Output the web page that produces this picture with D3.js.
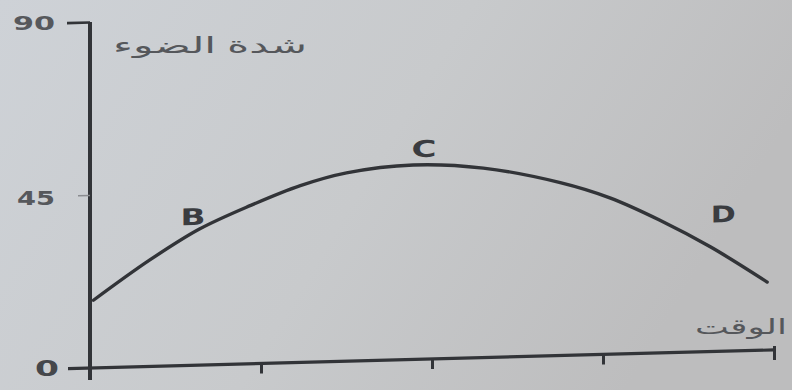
<!DOCTYPE html>
<html>
<head>
<meta charset="utf-8">
<script src="https://cdn.jsdelivr.net/npm/d3@7"></script>
<style>
  html, body { margin: 0; padding: 0; background: #c9cbce; }
  svg { display: block; }
</style>
</head>
<body>
<script>
// ---- data ----
const timeValues = [0.02, 0.35, 0.64, 0.94, 1.23, 1.50, 1.89, 2.30, 2.75, 3.04, 3.33, 3.63, 3.96];
const intensityValues = [17.6, 27.7, 35.4, 41.2, 46.0, 49.0, 50.6, 49.3, 45.0, 40.7, 34.6, 27.2, 17.7];
const yTickValues = [0, 45, 90];
const xTickValues = [1, 2, 3, 4];
const pointLabels = ["B", "C", "D"];
const pointLabelTimes = [0.60, 1.95, 3.70];
const pointLabelValues = [36.5, 52.6, 33.6];
const yAxisTitle = "شدة الضوء";
const xAxisTitle = "الوقت";

// ---- layout ----
const W = 792, H = 390;
const x0 = 90, y0 = 368, yTop = 22, xEnd = 774;
const shear = -0.0264;

const svg = d3.select("body").append("svg").attr("width", W).attr("height", H);

const defs = svg.append("defs");
const grad = defs.append("linearGradient").attr("id", "bg").attr("x1", "0").attr("x2", "1").attr("y1", "0").attr("y2", "0.3");
grad.append("stop").attr("offset", "0").attr("stop-color", "#ced2d7");
grad.append("stop").attr("offset", "0.55").attr("stop-color", "#c8cacc");
grad.append("stop").attr("offset", "1").attr("stop-color", "#bdbdbe");
svg.append("rect").attr("width", W).attr("height", H).attr("fill", "url(#bg)");

const x = d3.scaleLinear().domain([0, 4]).range([x0, xEnd]);
const y = d3.scaleLinear().domain([0, 90]).range([y0, yTop]);

// the photographed page is slightly sheared: horizontal lines rise to the right
const g = svg.append("g")
  .attr("transform", `translate(${x0},${y0}) matrix(1,${shear},0,1,0,0) translate(${-x0},${-y0})`);

const ink = "#323438";
const textInk = "#56585c";

// x axis
const xAxis = d3.axisBottom(x).tickValues(xTickValues).tickSize(10).tickFormat("");
const gx = g.append("g").attr("transform", `translate(0,${y0})`).call(xAxis);
gx.select(".domain").attr("d", `M${x0 - 22},0H${xEnd}`).attr("stroke", ink).attr("stroke-width", 3.2);
gx.selectAll(".tick line").attr("stroke", ink).attr("stroke-width", 3).attr("y1", d => d === 4 ? -4 : 0);

// y axis
const yAxis = d3.axisLeft(y).tickValues(yTickValues).tickSize(23).tickFormat("");
const gy = g.append("g").attr("transform", `translate(${x0},0)`).call(yAxis);
gy.select(".domain").attr("d", `M0,${y0 + 12}V${yTop}`).attr("stroke", ink).attr("stroke-width", 4);
gy.selectAll(".tick line").attr("stroke", ink).attr("stroke-width", 2.6);
gy.selectAll(".tick").filter(d => d === 0).select("line").attr("stroke-width", 0);
gy.selectAll(".tick").filter(d => d === 45).select("line")
  .attr("x2", -12).attr("stroke", "#8a8c90").attr("stroke-width", 1.4);

// y tick labels (outside the shear)
const labX = {0: 47, 45: 36, 90: 34};
const labW = {0: 24, 45: 38, 90: 42};
svg.append("g").selectAll("text").data(yTickValues).join("text")
  .attr("x", d => labX[d] - labW[d] / 2)
  .attr("y", d => d === 45 ? y(d) + 10 : y(d) + 8)
  .attr("textLength", d => labW[d])
  .attr("lengthAdjust", "spacingAndGlyphs")
  .attr("font-family", "DejaVu Sans, sans-serif")
  .attr("font-weight", "bold")
  .attr("font-size", d => d === 0 ? 22 : 20)
  .attr("fill", d => d === 0 ? "#45474b" : textInk)
  .text(d => d);

// curve
const pts = timeValues.map((t, i) => [t, intensityValues[i]]);
const line = d3.line().x(d => x(d[0])).y(d => y(d[1])).curve(d3.curveCatmullRom.alpha(0.5));
g.append("path").attr("d", line(pts)).attr("fill", "none")
  .attr("stroke", ink).attr("stroke-width", 3.4).attr("stroke-linecap", "round");

// point labels
g.selectAll("text.pl").data(pointLabels).join("text").attr("class", "pl")
  .attr("x", (d, i) => x(pointLabelTimes[i]) - 12)
  .attr("y", (d, i) => y(pointLabelValues[i]))
  .attr("textLength", 25)
  .attr("lengthAdjust", "spacingAndGlyphs")
  .attr("font-family", "DejaVu Sans, sans-serif")
  .attr("font-weight", "bold")
  .attr("font-size", 23)
  .attr("fill", "#3a3c40")
  .text(d => d);

// axis titles
svg.append("text").attr("x", 113).attr("y", 53)
  .attr("textLength", 194).attr("lengthAdjust", "spacingAndGlyphs")
  .attr("font-family", "Noto Sans, DejaVu Sans, sans-serif").attr("font-size", 22)
  .attr("fill", "#55575b").text(yAxisTitle);
svg.append("text").attr("x", 695).attr("y", 334)
  .attr("textLength", 92).attr("lengthAdjust", "spacingAndGlyphs")
  .attr("font-family", "Noto Sans, DejaVu Sans, sans-serif").attr("font-size", 21)
  .attr("fill", "#55575b").text(xAxisTitle);
</script>
</body>
</html>
